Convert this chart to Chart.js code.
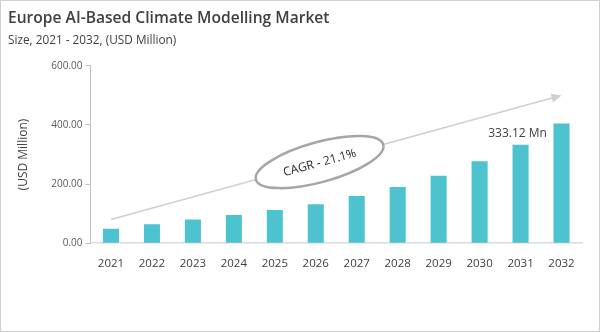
<!DOCTYPE html>
<html lang="en">
<head>
  <meta charset="UTF-8" />
  <title>Europe AI-Based Climate Modelling Market</title>
  <script src="https://cdn.jsdelivr.net/npm/chart.js"></script>
  <style>
    html, body { margin: 0; padding: 0; background: #fff; }
    #wrap { width: 600px; height: 332px; position: relative; }
  </style>
</head>
<body>
  <div id="wrap"><canvas id="marketChart" width="600" height="332"></canvas></div>

  <script>
    // Chart data
    const years = ['2021', '2022', '2023', '2024', '2025', '2026', '2027', '2028', '2029', '2030', '2031', '2032'];
    const marketSize = [49, 64, 80, 95, 112, 132, 160, 190, 228, 277, 333.12, 405];
    const yTicks = [0, 200, 400, 600];

    // Annotations
    const cagrText = 'CAGR - 21.1%';
    const calloutIndex = 10;
    const calloutText = '333.12 Mn';
    const trendFrom = { x: 0, y: 80 };
    const trendTo = { x: 11, y: 500 };

    const FONT = "'Open Sans', sans-serif";

    const decorations = {
      id: 'decorations',
      afterDatasetsDraw(chart) {
        const { ctx, scales: { x, y } } = chart;
        const x1 = x.getPixelForValue(trendFrom.x), y1 = y.getPixelForValue(trendFrom.y);
        const x2 = x.getPixelForValue(trendTo.x), y2 = y.getPixelForValue(trendTo.y);
        const ang = Math.atan2(y2 - y1, x2 - x1);
        ctx.save();
        // trend arrow
        ctx.strokeStyle = '#cfcfcf';
        ctx.fillStyle = '#cfcfcf';
        ctx.lineWidth = 1.5;
        ctx.beginPath();
        ctx.moveTo(x1, y1);
        ctx.lineTo(x2 - 8 * Math.cos(ang), y2 - 8 * Math.sin(ang));
        ctx.stroke();
        ctx.translate(x2, y2);
        ctx.rotate(ang);
        ctx.beginPath();
        ctx.moveTo(0, 0);
        ctx.lineTo(-10, -4.5);
        ctx.lineTo(-10, 4.5);
        ctx.closePath();
        ctx.fill();
        ctx.restore();

        // CAGR ellipse on the trend line
        const t = 0.463;
        const cx = x1 + (x2 - x1) * t, cy = y1 + (y2 - y1) * t;
        ctx.save();
        ctx.translate(cx, cy);
        ctx.rotate(ang);
        ctx.beginPath();
        ctx.ellipse(0, 0, 66, 20, 0, 0, Math.PI * 2);
        ctx.fillStyle = '#fff';
        ctx.fill();
        ctx.strokeStyle = '#a6a6a6';
        ctx.lineWidth = 2.5;
        ctx.stroke();
        ctx.fillStyle = '#262626';
        ctx.font = '12px ' + FONT;
        ctx.textAlign = 'center';
        ctx.textBaseline = 'middle';
        ctx.fillText(cagrText, 0, 1);
        ctx.restore();

        // callout above bar
        const bar = chart.getDatasetMeta(0).data[calloutIndex];
        ctx.save();
        ctx.fillStyle = '#404040';
        ctx.font = '12px ' + FONT;
        ctx.textAlign = 'center';
        ctx.textBaseline = 'bottom';
        ctx.fillText(calloutText, bar.x - 3, bar.y - 5);
        ctx.restore();

        // outer frame
        ctx.save();
        ctx.strokeStyle = '#d0d0d0';
        ctx.lineWidth = 1;
        ctx.strokeRect(0.5, 0.5, chart.width - 1, chart.height - 1);
        ctx.restore();
      }
    };

    new Chart(document.getElementById('marketChart'), {
      type: 'bar',
      data: {
        labels: years,
        datasets: [{
          data: marketSize,
          backgroundColor: '#4cc3cf',
          barPercentage: 0.56,
          categoryPercentage: 0.7
        }]
      },
      options: {
        responsive: false,
        animation: false,
        layout: { padding: { left: 8, top: 8, right: 18, bottom: 55 } },
        plugins: {
          legend: { display: false },
          tooltip: { enabled: false },
          title: {
            display: true,
            text: 'Europe AI-Based Climate Modelling Market',
            align: 'start',
            color: '#404040',
            font: { family: FONT, size: 15.6, weight: '600' },
            padding: { top: 1, bottom: 6 }
          },
          subtitle: {
            display: true,
            text: 'Size, 2021 - 2032, (USD Million)',
            align: 'start',
            color: '#404040',
            font: { family: FONT, size: 11.8 },
            padding: { top: 0, bottom: 18 }
          }
        },
        scales: {
          x: {
            grid: { display: false },
            border: { display: true, color: '#d6dce4', width: 1.5 },
            ticks: { color: '#404040', font: { family: FONT, size: 11.5 }, padding: 6, maxRotation: 0 }
          },
          y: {
            min: 0,
            max: 600,
            afterBuildTicks(scale) { scale.ticks = yTicks.map(v => ({ value: v })); },
            afterFit(scale) { scale.width = 82.5; },
            grid: { drawOnChartArea: false, tickLength: 5, color: '#bfbfbf' },
            border: { display: true, color: '#bfbfbf' },
            ticks: {
              color: '#595959',
              font: { family: FONT, size: 10 },
              padding: 3,
              callback: v => Number(v).toFixed(2)
            },
            title: {
              display: true,
              text: '(USD Million)',
              color: '#404040',
              font: { family: FONT, size: 12 },
              padding: { top: 8, bottom: 0 }
            }
          }
        }
      },
      plugins: [decorations]
    });
  </script>
</body>
</html>
